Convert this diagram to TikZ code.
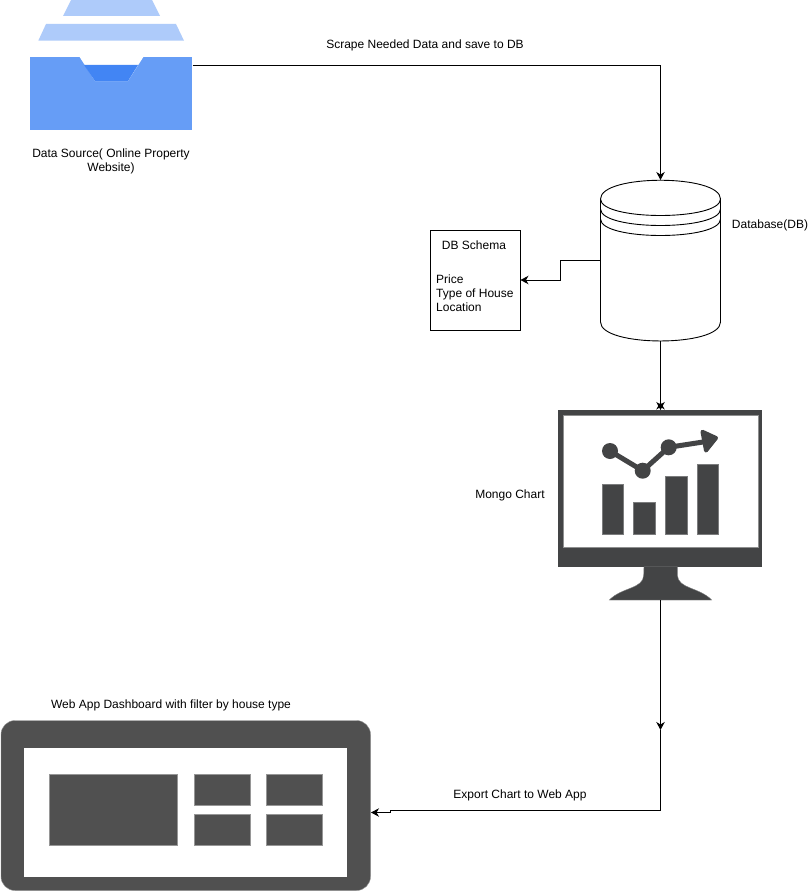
\documentclass[tikz,border=0pt]{standalone}
\usepackage{fontspec}
\setmainfont{Liberation Sans}
\usetikzlibrary{arrows.meta}
\definecolor{trayblue}{HTML}{669DF6}
\definecolor{traydark}{HTML}{4285F4}
\definecolor{traylight}{HTML}{AECBFA}
\definecolor{monitorgray}{HTML}{434445}
\definecolor{panelgray}{HTML}{505050}

\begin{document}
\begin{tikzpicture}[x=1pt,y=-1pt,
		label/.style={inner sep=0pt,align=center,font=\fontsize{12}{14}\selectfont},
		area/.style={inner sep=0pt,outer sep=0pt,minimum width=#1},
		link/.style={draw=black,line width=0.9pt,-{Stealth[length=8pt,width=8.5pt,inset=2.5pt]}},
		bowlink/.style={draw=black,line width=0.9pt,-{Stealth[reversed,length=7.5pt,width=8.5pt,inset=2.5pt,sep=-7.5pt] Stealth[length=8pt,width=8.5pt,inset=2.5pt]}},
		outline/.style={draw=black,line width=0.9pt,fill=white},
		monitorpart/.style={fill=monitorgray,draw=monitorgray!70,line width=0.4pt},
		panelpart/.style={fill=panelgray,draw=panelgray!60,line width=0.4pt}]
		\useasboundingbox (0,0) rectangle (809,891);
		\fill[white] (0,0) rectangle (809,891);

		\node[area=162.2,minimum height=73,fill=trayblue] (tray) at (111.1,93.5) {};
		\fill[white] (79,56) -- (144,56) -- (128,81) -- (95,81) -- cycle;
		\fill[traydark] (84,65) -- (138,65) -- (128,81) -- (95,81) -- cycle;
		\fill[traylight] (38.3,40.7) -- (184,40.7) -- (176,24) -- (46,24) -- cycle;
		\fill[traylight] (63,16) -- (160,16) -- (152,0) -- (71,0) -- cycle;
		\node[label] (sourcetext) at (111,161) {Data Source( Online Property\\Website)};
		\coordinate (trayout) at (192.5,65.5);

		\node[area=120,minimum height=161] (db) at (660.5,260.5) {};
		\draw[outline] (600.5,199) .. controls (600.5,174) and (720.5,174) .. (720.5,199)
			-- (720.5,322) .. controls (720.5,347.3) and (600.5,347.3) .. (600.5,322) -- cycle;
		\draw[line width=0.9pt] (600.5,199) .. controls (600.5,221) and (720.5,221) .. (720.5,199);
		\draw[line width=0.9pt] (600.5,209) .. controls (600.5,231) and (720.5,231) .. (720.5,209);
		\draw[line width=0.9pt] (600.5,219) .. controls (600.5,241) and (720.5,241) .. (720.5,219);
		\node[label] (dbtext) at (770,225.5) {Database(DB)};

		\node[area=90,minimum height=100,draw=black,line width=0.9pt] (schema) at (475.5,280) {};
		\node[label] (schematitle) at (474,245.5) {DB Schema};
		\node[label,align=left,anchor=west] (schemafields) at (436,293.5) {Price\\Type of House\\Location};

		\node[area=204,minimum height=156.7,fill=monitorgray] (monitor) at (660.3,488.35) {};
		\node[area=194.4,minimum height=131.7,fill=white,draw=monitorgray!60,line width=0.4pt] (screen) at (660.5,480.85) {};
		\fill[monitorpart] (644,566.7) -- (643.7,575) .. controls (643.5,589) and (622,587) .. (609.3,600)
			-- (711.7,600) .. controls (699,587) and (678,589) .. (677.3,575) -- (677.3,566.7) -- cycle;
		\coordinate (standout) at (660.5,600);
		\path[monitorpart] (602,483.7) rectangle (623.3,534.3);
		\path[monitorpart] (633.3,501.7) rectangle (655.3,534.3);
		\path[monitorpart] (665,476) rectangle (686.7,534.3);
		\path[monitorpart] (696.7,464) rectangle (718.3,534.3);
		\draw[monitorgray,line width=5pt] (610,451) -- (642.7,470.7) -- (668.7,447.3) -- (705,441.7);
		\fill[monitorgray] (610,451) circle (8);
		\fill[monitorgray] (642.7,470.7) circle (8);
		\fill[monitorgray] (668.7,447.3) circle (8);
		\fill[monitorgray,draw=monitorgray,line width=4pt,line join=round] (702.5,431.8) -- (716,438) -- (706,450.5) -- cycle;
		\node[label] (charttext) at (510,495.5) {Mongo Chart};

		\node[area=369.5,minimum height=170,panelpart,rounded corners=14pt] (dashboard) at (185.75,805.5) {};
		\node[area=323,minimum height=129.5,fill=white] (panel) at (185.5,812.25) {};
		\node[area=128.3,minimum height=71.3,panelpart] (bigchart) at (112.85,809.65) {};
		\node[area=56.3,minimum height=31.3,panelpart] (chartA) at (221.85,789.65) {};
		\node[area=56,minimum height=31.3,panelpart] (chartB) at (294.3,789.65) {};
		\node[area=56.3,minimum height=31,panelpart] (chartC) at (221.85,829.8) {};
		\node[area=56,minimum height=31,panelpart] (chartD) at (294.3,829.8) {};
		\node[label] (dashtext) at (171,705.5) {Web App Dashboard with filter by house type};

		\coordinate (midtip) at (660.5,730);
		\coordinate (dashin) at (371,812.5);

		\draw[link] (trayout) -- (660.5,65.5) -- (db.north);
		\draw[link] (db.west) -- (560.5,260.5) -- (560.5,280) -- (schema.east);
		\draw[bowlink] (db.south) -- (monitor.north -| db.south);
		\draw[link] (standout) -- (midtip);
		\draw[link] (midtip) -- (660.5,810) -- (390,810) -- (390,812.5) -- (dashin);
		\node[label] (scrapetext) at (425,45.5) {Scrape Needed Data and save to DB};
		\node[label] (exporttext) at (520,795.5) {Export Chart to Web App};
	\end{tikzpicture}
\end{document}
